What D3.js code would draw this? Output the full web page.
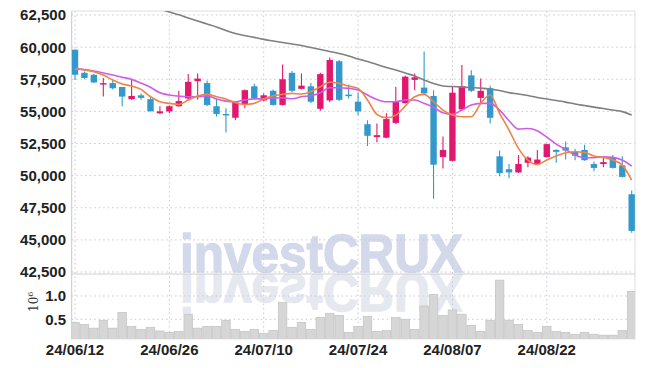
<!DOCTYPE html>
<html>
<head>
<meta charset="utf-8">
<script src="https://cdn.jsdelivr.net/npm/d3@7"></script>
<style>
  body { margin: 0; background: #fff; }
  svg { display: block; }
  .tick-label { font-family: "Liberation Sans Narrow", "Liberation Sans", sans-serif; font-weight: bold; font-size: 15px; fill: #222; }
</style>
</head>
<body>
<div id="chart"></div>
<script>
// trading days (24/06/12 .. 24/09/04)
var dates = ["24/06/12","24/06/13","24/06/14","24/06/17","24/06/18","24/06/19","24/06/20","24/06/21","24/06/24","24/06/25",
  "24/06/26","24/06/27","24/06/28","24/07/01","24/07/02","24/07/03","24/07/04","24/07/05","24/07/08","24/07/09",
  "24/07/10","24/07/11","24/07/12","24/07/15","24/07/16","24/07/17","24/07/18","24/07/19","24/07/22","24/07/23",
  "24/07/24","24/07/25","24/07/26","24/07/29","24/07/30","24/07/31","24/08/01","24/08/02","24/08/05","24/08/06",
  "24/08/07","24/08/08","24/08/09","24/08/12","24/08/13","24/08/14","24/08/16","24/08/19","24/08/20","24/08/21",
  "24/08/22","24/08/23","24/08/26","24/08/27","24/08/28","24/08/29","24/08/30","24/09/02","24/09/03","24/09/04"];

var opens  = [59800,58000,57850,57100,57200,56900,55950,56250,55950,54850, 55000,55400,56000,57350,57200,55400,54800,54500,55500,56950,
             55850,56600,55500,58000,56750,56950,55200,55850,58900,56300, 55750,54000,53000,52950,54100,55650,57450,56850,56200,51450,
             51150,55150,57800,56050,56800,51500,50500,50250,51000,50900, 51450,52000,52200,51850,52000,50900,50900,51400,50800,48550];
var highs  = [59800,58100,57900,57600,57450,56900,57450,56400,56100,55400, 55450,56600,57900,57950,57400,55950,55250,55750,56700,57150,
             56400,56700,58650,58150,57950,57200,58000,59200,59000,57100, 56450,54300,54050,54850,56900,57800,57950,59650,56650,53050,
             56900,58600,58200,57550,57000,51950,50900,51600,51500,52000, 52500,52050,52650,52100,52400,51100,51500,51600,51500,48850];
var lows   = [57450,57500,57200,56150,56700,55400,55900,55900,55000,54800, 54850,55350,55900,55900,55400,54600,53350,54300,55250,55900,
             55800,55450,55450,56500,56700,55650,55050,55700,55800,56000, 54700,52300,52600,52900,54000,55600,56650,56300,48200,50550,
             51100,55050,56500,55550,54050,49950,49800,50200,50650,50850, 51400,51000,51250,51200,51150,50350,50650,50550,49850,45550];
var closes = [57850,57600,57250,57200,56800,56150,56200,56050,55000,55000, 55400,55800,57300,57550,55500,54800,54750,55700,56650,56000,
             56250,55500,57500,56600,57000,55750,57900,59000,55900,56200, 55000,53100,53150,54400,55800,57700,57650,56400,50850,52000,
             56450,56950,56600,56600,54500,50200,50250,50900,51400,51250, 52450,51850,51950,51550,51200,50600,51050,50600,49900,45700];
// volume (shares)
var volume = [435000,390000,310000,480000,310000,650000,350000,285000,330000,250000, 220000,240000,610000,310000,350000,350000,480000,285000,240000,285000,
              200000,260000,865000,330000,435000,285000,540000,630000,585000,220000, 350000,565000,240000,260000,540000,500000,285000,785000,1035000,585000,
              700000,610000,370000,240000,480000,1340000,480000,390000,260000,220000, 350000,240000,220000,180000,220000,180000,160000,160000,260000,1100000];
// moving averages
var ma5  = [58300,58220,58090,57830,57440,57130,56970,56710,56140,55750, 55620,55540,55880,56190,56320,56140,55960,55670,55540,55620,
            55960,56210,56320,56400,56350,56530,56920,57260,57180,56970, 56790,55880,54770,54500,54710,55410,56140,56320,55750,55100,
            54710,54580,54580,55620,56270,54850,53540,52120,51210,50870, 51210,51520,51780,51860,51810,51520,51420,51210,50820,49650];
var ma10 = [58350,58250,58140,57990,57830,57660,57490,57200,56870,56450, 56270,56190,56140,56140,56220,55960,55800,55750,55880,55960,
            55980,56040,56060,55980,56140,56220,56450,56840,56840,56790, 56660,56270,55930,55750,55750,55880,55880,55620,55310,54890,
            54770,55100,55490,55620,55620,55100,54270,53620,53670,53490, 53000,52450,52040,51600,51390,51390,51460,51420,51210,50740];
var ma60 = [65100,64850,64600,64350,64100,63850,63600,63400,63200,62960, 62730,62510,62270,62030,61800,61570,61290,61060,60900,60760,
            60600,60480,60360,60240,60120,59970,59810,59660,59500,59310, 59070,58880,58650,58410,58220,57980,57750,57440,57170,56970,
            56930,56890,56850,56810,56740,56620,56460,56350,56230,56080, 55960,55840,55720,55570,55450,55330,55220,55100,54980,54710];

var priceTicks = [42500,45000,47500,50000,52500,55000,57500,60000,62500];
var volTicks = [500000,1000000];
var xTickIdx = [0,10,20,30,40,50];

var W = 645, H = 368;
var pLeft = 71.7, pRight = 635, pTop = 11, pMid = 274, pBottom = 339.3;

var svg = d3.select("#chart").append("svg").attr("width", W).attr("height", H);

var x = d3.scaleLinear().domain([-0.35, dates.length - 0.65]).range([pLeft, pRight]);
var y = d3.scaleLinear().domain([42345, 62810]).range([pMid, pTop]);
var yv = d3.scaleLinear().domain([71000, 1472000]).range([pBottom, pMid]);

var defs = svg.append("defs");
defs.append("clipPath").attr("id", "priceClip")
  .append("rect").attr("x", pLeft).attr("y", pTop).attr("width", pRight - pLeft).attr("height", pMid - pTop);
defs.append("clipPath").attr("id", "volClip")
  .append("rect").attr("x", pLeft).attr("y", pMid).attr("width", pRight - pLeft).attr("height", pBottom - pMid);

// watermark + reflection (under the grid)
var wmX = 180, wmY = 272;
function watermark(g, fill) {
  return g.append("text").attr("x", wmX).attr("y", wmY)
    .attr("textLength", 283).attr("lengthAdjust", "spacingAndGlyphs")
    .style("font-family", "Liberation Sans, Arial, sans-serif").style("font-weight", "bold")
    .style("font-size", "54px").attr("fill", fill)
    .attr("stroke", fill).attr("stroke-width", 1.4)
    .text("investCRUX");
}
watermark(svg, "#d3d9ea");
watermark(svg.append("g").attr("clip-path", "url(#volClip)"), "#e6e8f0")
  .attr("transform", "translate(0," + (2 * wmY + 2) + ") scale(1,-1)");

// grid
var grid = svg.append("g");
grid.selectAll(".hg").data(priceTicks).enter().append("line")
  .attr("x1", pLeft).attr("x2", pRight).attr("y1", d => y(d)).attr("y2", d => y(d))
  .attr("stroke", "#c4c8d8").attr("stroke-dasharray", "1.5,3");
grid.selectAll(".vg").data(volTicks).enter().append("line")
  .attr("x1", pLeft).attr("x2", pRight).attr("y1", d => yv(d)).attr("y2", d => yv(d))
  .attr("stroke", "#c4c8d8").attr("stroke-dasharray", "1.5,3");
grid.selectAll(".xg").data(xTickIdx).enter().append("line")
  .attr("x1", d => x(d)).attr("x2", d => x(d)).attr("y1", pTop).attr("y2", pBottom)
  .attr("stroke", "#c4c8d8").attr("stroke-dasharray", "1.5,3");

// frame
svg.append("line").attr("x1", pLeft).attr("x2", pRight).attr("y1", pTop).attr("y2", pTop).attr("stroke", "#dedede");
svg.append("line").attr("x1", pRight).attr("x2", pRight).attr("y1", pTop).attr("y2", pBottom).attr("stroke", "#dedede");
svg.append("line").attr("x1", pLeft).attr("x2", pLeft).attr("y1", pTop).attr("y2", pBottom).attr("stroke", "#c8c8c8");
svg.append("line").attr("x1", pLeft).attr("x2", pRight).attr("y1", pMid).attr("y2", pMid).attr("stroke", "#cfcfcf").attr("stroke-width", 1.2);

// volume bars
var bw = (x(1) - x(0)) - 0.9;
svg.append("g").attr("clip-path", "url(#volClip)")
  .selectAll("rect").data(volume).enter().append("rect")
  .attr("x", (d, i) => x(i) - bw / 2).attr("width", bw)
  .attr("y", d => yv(d)).attr("height", d => pBottom - yv(d))
  .attr("fill", "#d6d6d6").attr("stroke", "#c2c2c2").attr("stroke-width", 0.7);

// candles
var upC = "#e2186e", downC = "#3399cc";
var cw = 6.4;
var pg = svg.append("g").attr("clip-path", "url(#priceClip)");
var candles = pg.selectAll(".c").data(dates).enter().append("g");
candles.append("line")
  .attr("x1", (d, i) => x(i)).attr("x2", (d, i) => x(i))
  .attr("y1", (d, i) => y(highs[i])).attr("y2", (d, i) => y(lows[i]))
  .attr("stroke", (d, i) => closes[i] >= opens[i] ? upC : downC).attr("stroke-width", 1.1);
candles.append("rect")
  .attr("x", (d, i) => x(i) - cw / 2).attr("width", cw)
  .attr("y", (d, i) => y(Math.max(opens[i], closes[i])))
  .attr("height", (d, i) => Math.max(1.5, Math.abs(y(opens[i]) - y(closes[i]))))
  .attr("fill", (d, i) => closes[i] >= opens[i] ? upC : downC);

// moving averages
var line = d3.line().x((d, i) => x(i)).y(d => y(d)).curve(d3.curveMonotoneX);
pg.append("path").datum(ma60).attr("d", line).attr("fill", "none").attr("stroke", "#7f7f7f").attr("stroke-width", 1.6);
pg.append("path").datum(ma10).attr("d", line).attr("fill", "none").attr("stroke", "#cf5ce8").attr("stroke-width", 1.6);
pg.append("path").datum(ma5).attr("d", line).attr("fill", "none").attr("stroke", "#ee8446").attr("stroke-width", 1.6);

// axes labels
var fmt = d3.format(",");
svg.selectAll(".py").data(priceTicks).enter().append("text")
  .attr("class", "tick-label").attr("x", 66).attr("y", d => y(d)).attr("dy", "0.36em")
  .attr("text-anchor", "end").text(d => fmt(d));
svg.selectAll(".vy").data(volTicks).enter().append("text")
  .attr("class", "tick-label").attr("x", 66).attr("y", d => yv(d)).attr("dy", "0.36em")
  .attr("text-anchor", "end").text(d => (d / 1e6).toFixed(1));
var exp = svg.append("text").attr("transform", "translate(38,312) rotate(-90)")
  .style("font-family", "DejaVu Serif, serif").style("font-size", "12px").attr("fill", "#333");
exp.append("tspan").text("10");
exp.append("tspan").attr("dy", -5).style("font-size", "8px").text("6");
svg.selectAll(".xl").data(xTickIdx).enter().append("text")
  .attr("class", "tick-label").attr("x", d => x(d)).attr("y", 355)
  .attr("text-anchor", "middle").text(d => dates[d]);
</script>
</body>
</html>
